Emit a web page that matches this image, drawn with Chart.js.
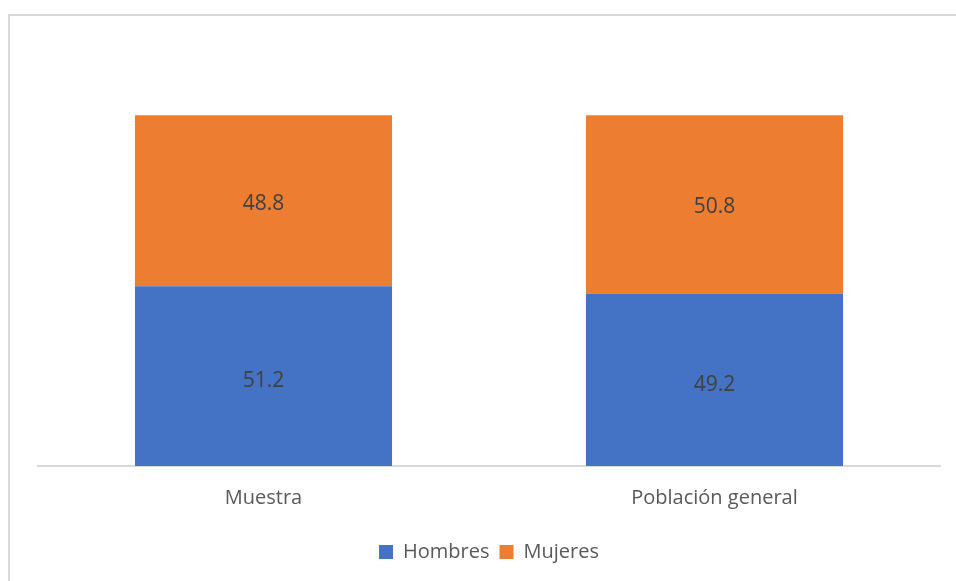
<!DOCTYPE html>
<html>
<head>
<meta charset="utf-8">
<script src="https://cdn.jsdelivr.net/npm/chart.js@4"></script>
<style>
  html, body { margin: 0; padding: 0; background: #fff; }
  #wrap { position: relative; width: 956px; height: 581px; overflow: hidden; }
  #frame { position: absolute; left: 8px; top: 14px; width: 1000px; height: 700px; border: 2px solid #d9d9d9; box-sizing: border-box; }
  canvas { position: absolute; left: 0; top: 0; }
</style>
</head>
<body>
<div id="wrap">
  <div id="frame"></div>
  <canvas id="chart" width="956" height="581"></canvas>
</div>
<script>
// values
var categories = ['Muestra', 'Población general'];
var hombres = [51.2, 49.2];
var mujeres = [48.8, 50.8];

var FONT = '"Open Sans", "Noto Sans", sans-serif';

// write each value in the middle of its bar segment
var barLabels = {
  id: 'barLabels',
  afterDatasetsDraw: function(chart){
    var ctx = chart.ctx;
    ctx.save();
    ctx.font = '21px ' + FONT;
    ctx.fillStyle = '#404040';
    ctx.textAlign = 'center';
    ctx.textBaseline = 'middle';
    chart.data.datasets.forEach(function(ds, i){
      chart.getDatasetMeta(i).data.forEach(function(bar, j){
        var p = bar.getProps(['x', 'y', 'base'], true);
        ctx.fillText(ds.data[j].toFixed(1), p.x, (p.y + p.base) / 2 + (i === 0 ? 5 : 3));
      });
    });
    ctx.restore();
  }
};

new Chart(document.getElementById('chart'), {
  type: 'bar',
  data: {
    labels: categories,
    datasets: [
      { label: 'Hombres', data: hombres, backgroundColor: '#4472C4' },
      { label: 'Mujeres', data: mujeres, backgroundColor: '#ED7D31' }
    ]
  },
  options: {
    responsive: false,
    animation: false,
    layout: { padding: { left: 38, right: 16, top: 45, bottom: 9 } },
    datasets: { bar: { categoryPercentage: 1, barPercentage: 0.57 } },
    scales: {
      x: {
        stacked: true,
        grid: { display: false, drawTicks: false },
        border: { color: '#d9d9d9', width: 2 },
        ticks: { color: '#595959', font: { family: FONT, size: 20 }, padding: 20 },
        afterFit: function(s){ s.height = 66; }
      },
      y: { stacked: true, display: false, min: 0, max: 120 }
    },
    plugins: {
      legend: {
        position: 'bottom',
        labels: { color: '#595959', font: { family: FONT, size: 20 }, boxWidth: 14, boxHeight: 14, padding: 10 }
      },
      tooltip: { enabled: false }
    }
  },
  plugins: [barLabels]
});
</script>
</body>
</html>
